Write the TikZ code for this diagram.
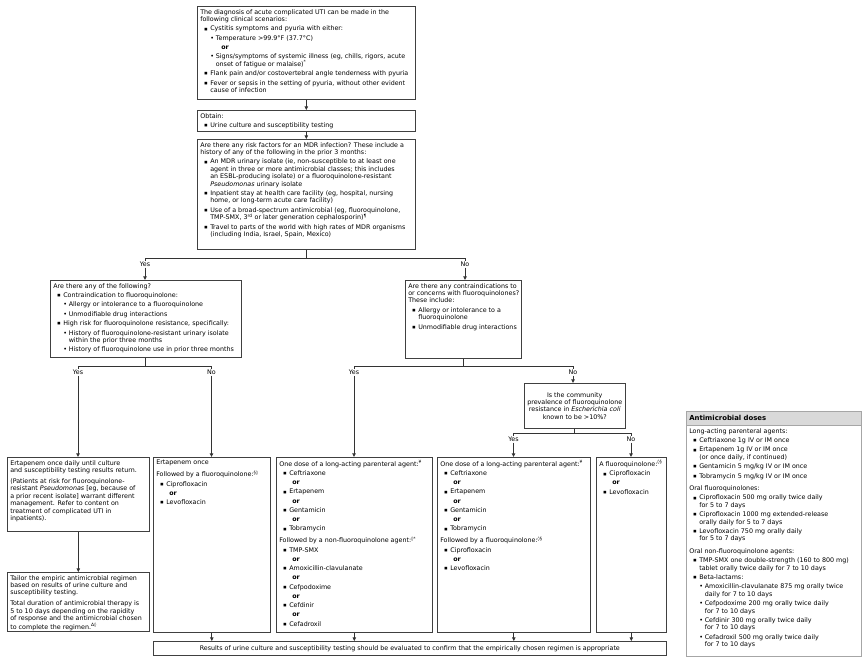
\documentclass[tikz,border=0pt]{standalone}
\usepackage{fontspec}
\setmainfont{DejaVu Sans}
\usetikzlibrary{arrows.meta}
\newcommand\fs{\fontsize{6.35}{7.4}\selectfont}
\newcommand\bsq{\raisebox{0.8pt}{\fontsize{3.4}{4}\selectfont ■}}
\newcommand\bdot{•}
\newcommand\pl[1]{\par\mbox{#1}}
\newcommand\itA[1]{\par\vspace{2pt}\mbox{\hspace*{4pt}\makebox[6pt][l]{\bsq}#1}}
\newcommand\cA[1]{\par\mbox{\hspace*{10pt}#1}}
\newcommand\itB[1]{\par\vspace{2pt}\mbox{\hspace*{10pt}\makebox[5.5pt][l]{\bdot}#1}}
\newcommand\cB[1]{\par\mbox{\hspace*{15.5pt}#1}}
\newcommand\orA{\par\vspace{1.7pt}\mbox{\hspace*{13pt}\textbf{or}}}
\newcommand\orB{\par\vspace{1.7pt}\mbox{\hspace*{21pt}\textbf{or}}}
\newcommand\pgap[1][3.5pt]{\par\vspace{#1}}
\newcommand\sps[1]{\textsuperscript{#1}}
\newcommand\bx[3]{\begin{minipage}[t][\dimexpr#2pt-6pt\relax][t]{\dimexpr#1pt-6pt\relax}\fs\raggedright #3\end{minipage}}
\tikzset{
  box/.style={draw=black!75, line width=0.6pt, fill=white, inner sep=3pt, anchor=north west},
  ln/.style={draw=black!80, line width=0.7pt},
  arr/.style={ln, -{Triangle[length=3.6pt,width=3.4pt]}},
  lab/.style={font=\fs, inner sep=0.8pt, anchor=north},
}
\begin{document}
\begin{tikzpicture}[x=1pt,y=-1pt]
\useasboundingbox (0,0) rectangle (865,662);
\fill[white] (0,0) rectangle (865,662);

\node[box] (top) at (197,6) {\bx{218}{93}{\pl{The diagnosis of acute complicated UTI can be made in the}\pl{following clinical scenarios:}\itA{Cystitis symptoms and pyuria with either:}\itB{Temperature >99.9°F (37.7°C)}\orB\itB{Signs/symptoms of systemic illness (eg, chills, rigors, acute}\cB{onset of fatigue or malaise)\sps{*}}\itA{Flank pain and/or costovertebral angle tenderness with pyuria}\itA{Fever or sepsis in the setting of pyuria, without other evident}\cA{cause of infection}}};

\node[box] (obt) at (197,110) {\bx{218}{21}{\pl{Obtain:}\itA{Urine culture and susceptibility testing}}};

\node[box] (mdr) at (197,139) {\bx{218}{110}{\pl{Are there any risk factors for an MDR infection? These include a}\pl{history of any of the following in the prior 3 months:}\itA{An MDR urinary isolate (ie, non-susceptible to at least one}\cA{agent in three or more antimicrobial classes; this includes}\cA{an ESBL-producing isolate) or a fluoroquinolone-resistant}\cA{\textit{Pseudomonas} urinary isolate}\itA{Inpatient stay at health care facility (eg, hospital, nursing}\cA{home, or long-term acute care facility)}\itA{Use of a broad-spectrum antimicrobial (eg, fluoroquinolone,}\cA{TMP-SMX, 3\sps{rd} or later generation cephalosporin)\sps{¶}}\itA{Travel to parts of the world with high rates of MDR organisms}\cA{(including India, Israel, Spain, Mexico)}}};

\node[box] (lq) at (50,280) {\bx{191}{77}{\pl{Are there any of the following?}\itA{Contraindication to fluoroquinolone:}\itB{Allergy or intolerance to a fluoroquinolone}\itB{Unmodifiable drug interactions}\itA{High risk for fluoroquinolone resistance, specifically:}\itB{History of fluoroquinolone-resistant urinary isolate}\cB{within the prior three months}\itB{History of fluoroquinolone use in prior three months}}};

\node[box] (rq) at (405,280) {\bx{116}{78}{\pl{Are there any contraindications to}\pl{or concerns with fluoroquinolones?}\pl{These include:}\itA{Allergy or intolerance to a}\cA{fluoroquinolone}\itA{Unmodifiable drug interactions}}};

\node[box, minimum width=98pt, minimum height=45pt, align=center, font=\fs] (comm) at (524,383) {Is the community\\prevalence of fluoroquinolone\\resistance in \textit{Escherichia coli}\\known to be >10\%?};

\node[box] (ed) at (7,457) {\bx{142}{74}{\pl{Ertapenem once daily until culture}\pl{and susceptibility testing results return.}\pgap\pl{(Patients at risk for fluoroquinolone-}\pl{resistant \textit{Pseudomonas} [eg, because of}\pl{a prior recent isolate] warrant different}\pl{management. Refer to content on}\pl{treatment of complicated UTI in}\pl{inpatients).}}};

\node[box] (tl) at (7,572) {\bx{142}{59}{\pl{Tailor the empiric antimicrobial regimen}\pl{based on results of urine culture and}\pl{susceptibility testing.}\pgap\pl{Total duration of antimicrobial therapy is}\pl{5 to 10 days depending on the rapidity}\pl{of response and the antimicrobial chosen}\pl{to complete the regimen.\sps{Δ◊}}}};

\node[box] (eo) at (153,457) {\bx{117}{175}{\pl{Ertapenem once}\pgap\pl{Followed by a fluoroquinolone:\sps{§◊}}\itA{Ciprofloxacin}\orA\itA{Levofloxacin}}};

\node[box] (mid) at (276,457) {\bx{156}{175}{\pl{One dose of a long-acting parenteral agent:\sps{¥}}\itA{Ceftriaxone}\orA\itA{Ertapenem}\orA\itA{Gentamicin}\orA\itA{Tobramycin}\pgap\pl{Followed by a non-fluoroquinolone agent:\sps{◊*}}\itA{TMP-SMX}\orA\itA{Amoxicillin-clavulanate}\orA\itA{Cefpodoxime}\orA\itA{Cefdinir}\orA\itA{Cefadroxil}}};

\node[box] (thd) at (437,457) {\bx{153}{175}{\pl{One dose of a long-acting parenteral agent:\sps{¥}}\itA{Ceftriaxone}\orA\itA{Ertapenem}\orA\itA{Gentamicin}\orA\itA{Tobramycin}\pgap\pl{Followed by a fluoroquinolone:\sps{◊§}}\itA{Ciprofloxacin}\orA\itA{Levofloxacin}}};

\node[box] (fth) at (596,457) {\bx{70}{175}{\pl{A fluoroquinolone:\sps{◊§}}\itA{Ciprofloxacin}\orA\itA{Levofloxacin}}};

\node[box, minimum width=513pt, minimum height=14pt, font=\fs] (bar) at (153,641) {Results of urine culture and susceptibility testing should be evaluated to confirm that the empirically chosen regimen is appropriate};

\node[box, draw=black!35, fill=black!15, text width=169pt, minimum height=14pt, font=\fontsize{6.9}{8}\selectfont\bfseries] (dh) at (686,411) {Antimicrobial doses};
\node[box, draw=black!35] (doses) at (686,425) {\bx{175}{231}{\pl{Long-acting parenteral agents:}\itA{Ceftriaxone 1g IV or IM once}\itA{Ertapenem 1g IV or IM once}\cA{(or once daily, if continued)}\itA{Gentamicin 5 mg/kg IV or IM once}\itA{Tobramycin 5 mg/kg IV or IM once}\pgap[5pt]\pl{Oral fluoroquinolones:}\itA{Ciprofloxacin 500 mg orally twice daily}\cA{for 5 to 7 days}\itA{Ciprofloxacin 1000 mg extended-release}\cA{orally daily for 5 to 7 days}\itA{Levofloxacin 750 mg orally daily}\cA{for 5 to 7 days}\pgap[5pt]\pl{Oral non-fluoroquinolone agents:}\itA{TMP-SMX one double-strength (160 to 800 mg)}\cA{tablet orally twice daily for 7 to 10 days}\itA{Beta-lactams:}\itB{Amoxicillin-clavulanate 875 mg orally twice}\cB{daily for 7 to 10 days}\itB{Cefpodoxime 200 mg orally twice daily}\cB{for 7 to 10 days}\itB{Cefdinir 300 mg orally twice daily}\cB{for 7 to 10 days}\itB{Cefadroxil 500 mg orally twice daily}\cB{for 7 to 10 days}}};

% labels
\node[lab] (yes1) at (145,261) {Yes};
\node[lab] (no1) at (465,261) {No};
\node[lab] (yes2) at (78,369) {Yes};
\node[lab] (no2) at (211.5,369) {No};
\node[lab] (yes3) at (354,369) {Yes};
\node[lab] (no3) at (573,369) {No};
\node[lab] (yes4) at (513.5,436) {Yes};
\node[lab] (no4) at (631,436) {No};

% connectors
\draw[arr] (top.south) -- (obt.north);
\draw[arr] (obt.south) -- (mdr.north);
\coordinate (j1) at ([yshift=-9pt]mdr.south);
\draw[ln] (mdr.south) -- (j1);
\draw[ln] (yes1.north) |- (j1) -| (no1.north);
\draw[arr] (yes1.south) -- (yes1.south |- lq.north);
\draw[arr] (no1.south) -- (no1.south |- rq.north);
\coordinate (j2) at ([yshift=-9pt]lq.south);
\draw[ln] (lq.south) -- (j2);
\draw[ln] (yes2.north) |- (j2) -| (no2.north);
\draw[arr] (yes2.south) -- (yes2.south |- ed.north);
\draw[arr] (no2.south) -- (no2.south |- eo.north);
\coordinate (j3) at ([yshift=-8pt]rq.south);
\draw[ln] (rq.south) -- (j3);
\draw[ln] (yes3.north) |- (j3) -| (no3.north);
\draw[arr] (yes3.south) -- (yes3.south |- mid.north);
\draw[arr] (no3.south) -- (no3.south |- comm.north);
\coordinate (j4) at ([yshift=-5pt]comm.south);
\draw[ln] (comm.south) -- (j4);
\draw[ln] (yes4.north) |- (j4) -| (no4.north);
\draw[arr] (yes4.south) -- (yes4.south |- thd.north);
\draw[arr] (no4.south) -- (no4.south |- fth.north);
\draw[arr] (ed.south) -- (tl.north);
\draw[arr] (eo.south) -- (eo.south |- bar.north);
\draw[arr] (mid.south) -- (mid.south |- bar.north);
\draw[arr] (thd.south) -- (thd.south |- bar.north);
\draw[arr] (fth.south) -- (fth.south |- bar.north);
\end{tikzpicture}
\end{document}
